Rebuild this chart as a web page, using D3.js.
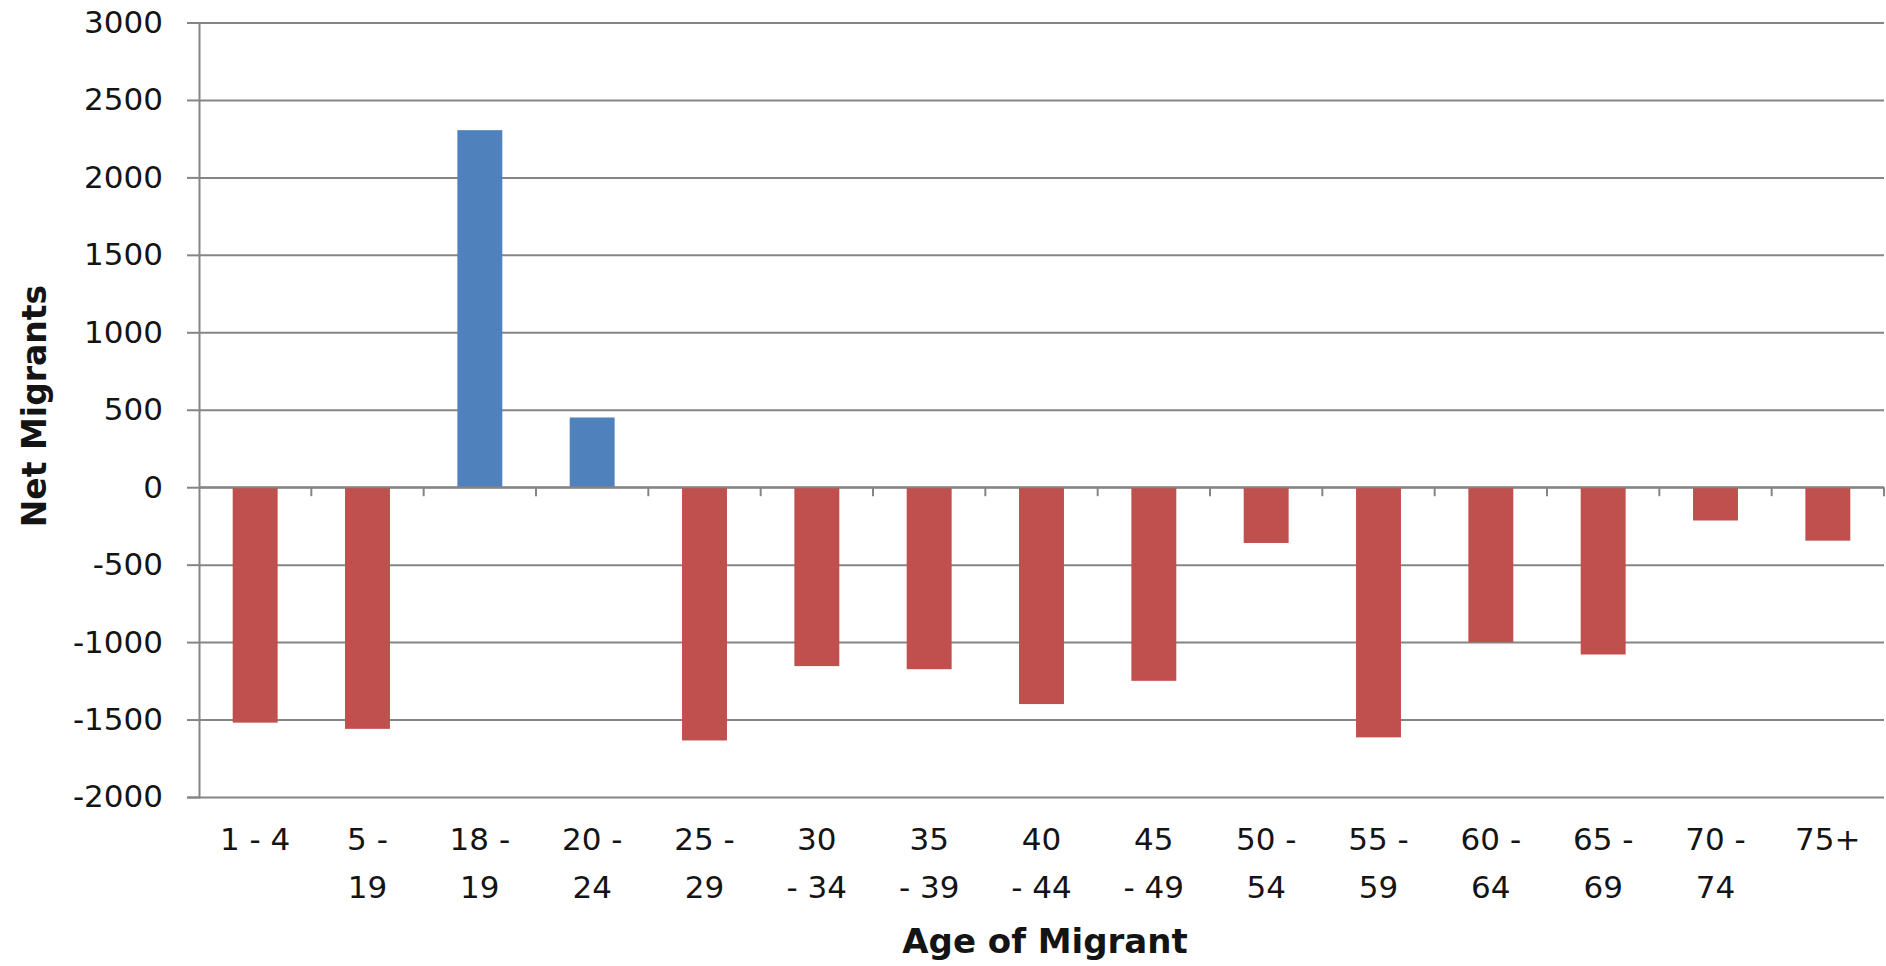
<!DOCTYPE html>
<html>
<head>
<meta charset="utf-8">
<script src="https://cdn.jsdelivr.net/npm/d3@7"></script>
<style>
  html, body { margin: 0; padding: 0; background: #fff; }
  svg { display: block; }
  text { font-family: "DejaVu Sans", "Liberation Sans", sans-serif; fill: #141414; }
</style>
</head>
<body>
<svg id="chart" width="1886" height="966"></svg>
<script>
// Age groups, the wrapped tick text for each, and net migrants per group
const categories = ["1 - 4", "5 - 19", "18 - 19", "20 - 24", "25 - 29", "30 - 34", "35 - 39",
                    "40 - 44", "45 - 49", "50 - 54", "55 - 59", "60 - 64", "65 - 69", "70 - 74", "75+"];
const tickLines = [["1 - 4"], ["5 -", "19"], ["18 -", "19"], ["20 -", "24"], ["25 -", "29"],
                   ["30", "- 34"], ["35", "- 39"], ["40", "- 44"], ["45", "- 49"], ["50 -", "54"],
                   ["55 -", "59"], ["60 -", "64"], ["65 -", "69"], ["70 -", "74"], ["75+"]];
const netMigrants = [-1520, -1560, 2305, 450, -1635, -1155, -1175, -1400, -1250, -360,
                     -1615, -1000, -1080, -215, -345];
const yTicks = [-2000, -1500, -1000, -500, 0, 500, 1000, 1500, 2000, 2500, 3000];
const yTitle = "Net Migrants";
const xTitle = "Age of Migrant";

const plotLeft = 199, plotRight = 1884, plotTop = 22.5, plotBottom = 797;
const gridColor = "#858585";
const svg = d3.select("#chart");

const x = d3.scaleBand().domain(categories).range([plotLeft, plotRight]).paddingInner(0.6).paddingOuter(0.3);
const y = d3.scaleLinear().domain([d3.min(yTicks), d3.max(yTicks)]).range([plotBottom, plotTop]);

// horizontal gridlines
svg.append("g")
  .attr("transform", `translate(${plotLeft},0)`)
  .call(d3.axisLeft(y).tickValues(yTicks).tickSize(-(plotRight - plotLeft)).tickFormat(""))
  .call(g => g.select(".domain").remove())
  .call(g => g.selectAll("line").attr("stroke", gridColor).attr("stroke-width", 2));

// bars
svg.append("g").selectAll("rect")
  .data(netMigrants)
  .join("rect")
  .attr("x", (d, i) => x(categories[i]))
  .attr("width", x.bandwidth())
  .attr("y", d => y(Math.max(0, d)))
  .attr("height", d => Math.abs(y(d) - y(0)))
  .attr("fill", d => d >= 0 ? "#4F81BD" : "#C0504D");

// y axis with outward tick marks and labels (plain hyphen for negatives)
svg.append("g")
  .attr("transform", `translate(${plotLeft},0)`)
  .call(d3.axisLeft(y).tickValues(yTicks).tickSize(12).tickPadding(24).tickFormat(d => String(d)))
  .call(g => g.select(".domain").attr("stroke", gridColor).attr("stroke-width", 2))
  .call(g => g.selectAll("line").attr("stroke", gridColor).attr("stroke-width", 2))
  .call(g => g.selectAll("text")
      .attr("font-family", "DejaVu Sans, sans-serif")
      .attr("font-size", 31).attr("fill", "#141414"));

// category axis along zero, ticks at group boundaries
const step = x.step();
const boundaries = categories.map(c => x(c) + x.bandwidth() / 2 + step / 2);
const zeroAxis = svg.append("g");
zeroAxis.append("line")
  .attr("x1", plotLeft).attr("x2", plotRight)
  .attr("y1", y(0)).attr("y2", y(0))
  .attr("stroke", gridColor).attr("stroke-width", 2);
zeroAxis.selectAll("line.tick")
  .data(boundaries)
  .join("line")
  .attr("class", "tick")
  .attr("x1", d => d).attr("x2", d => d)
  .attr("y1", y(0)).attr("y2", y(0) + 9)
  .attr("stroke", gridColor).attr("stroke-width", 2);

// wrapped category labels below the plot
const labels = svg.append("g").selectAll("text")
  .data(categories)
  .join("text")
  .attr("text-anchor", "middle")
  .attr("font-size", 31)
  .attr("x", c => x(c) + x.bandwidth() / 2)
  .attr("y", 850);
labels.selectAll("tspan")
  .data((c, i) => tickLines[i].map(t => ({ t, x: x(c) + x.bandwidth() / 2 })))
  .join("tspan")
  .attr("x", d => d.x)
  .attr("dy", (d, j) => j === 0 ? 0 : 48)
  .text(d => d.t);

// axis titles
svg.append("text")
  .attr("transform", "translate(46,406) rotate(-90)")
  .attr("text-anchor", "middle")
  .attr("font-size", 33)
  .attr("font-weight", "bold")
  .text(yTitle);

svg.append("text")
  .attr("x", 1045).attr("y", 953)
  .attr("text-anchor", "middle")
  .attr("font-size", 34)
  .attr("font-weight", "bold")
  .text(xTitle);
</script>
</body>
</html>
